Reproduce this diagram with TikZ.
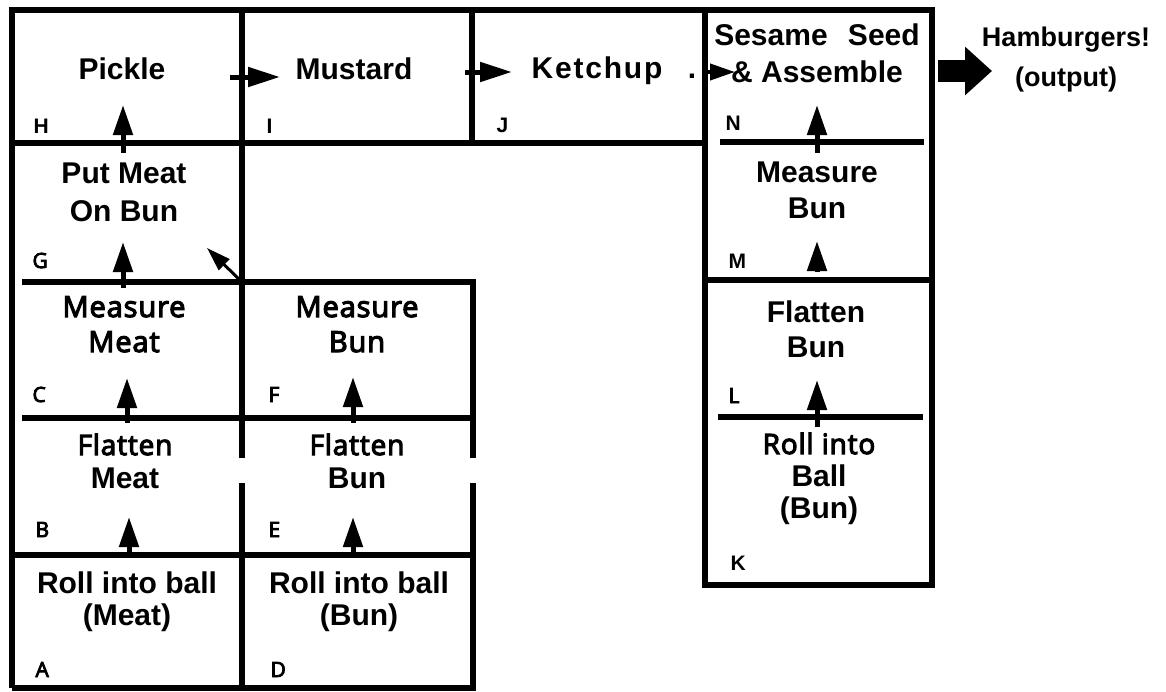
\documentclass[tikz,border=0pt]{standalone}
\usepackage{fontspec}
\setmainfont{Liberation Sans}
\newfontfamily\frut[LetterSpace=3, FakeBold=4]{Open Sans}
\usetikzlibrary{arrows.meta}
\newcommand\softtxt[1]{{\fontsize{28}{34}\selectfont\frut\mdseries #1}}

\begin{document}
\begin{tikzpicture}[x=1pt, y=-1pt,
    frame/.style={line width=5.5pt},
    up/.style={line width=5pt, -{Triangle[length=30pt,width=19pt]}},
    big/.style={font=\fontsize{30}{36}\selectfont\bfseries, align=center, anchor=base},
    soft/.style={font=\fontsize{29}{35}\selectfont\frut, align=center, anchor=base},
    tag/.style={font=\fontsize{21}{21}\selectfont\bfseries, anchor=base west},
    softtag/.style={font=\fontsize{21}{21}\selectfont\frut\mdseries, anchor=base west}]
    \useasboundingbox (0,0) rectangle (1166,691);

    % box lines
    \draw[frame] (12,688) -- (12,10) -- (932,10) -- (932,585) -- (705,585) -- (705,10);
    \draw[frame] (12,143) -- (705,143);
    \draw[frame] (242,10) -- (242,458);
    \draw[frame] (242,483) -- (242,688);
    \draw[frame] (472,10) -- (472,143);
    \draw[frame] (12,688) -- (473,688) -- (473,483);
    \draw[frame] (473,458) -- (473,282) -- (22,282);
    \draw[frame] (22,418) -- (473,418);
    \draw[frame] (12,555) -- (473,555);
    \draw[frame] (720,142) -- (924,142);
    \draw[frame] (705,280) -- (932,280);
    \draw[frame] (718,417) -- (923,417);

    % step texts (base = last line)
    \node[big] (pickle) at (122,79) {Pickle};
    \node[big] (mustard) at (354,79) {Mustard};
    \node[big] (ketchup) at (597,78) {\addfontfeature{LetterSpace=6}Ketchup};
    \node[big] (kdot) at (692,78) {.};
    \node[big, font=\fontsize{30}{37}\selectfont\bfseries] (assemble) at (817,82) {Sesame\hspace{0.4em} Seed\\\& Assemble};
    \node[big, font=\fontsize{27}{40}\selectfont\bfseries] (output) at (1066,86) {Hamburgers!\\(output)};
    \node[big, font=\fontsize{30}{38}\selectfont\bfseries] (putmeat) at (124,221) {Put Meat\\On Bun};
    \node[big] (measurebunM) at (817,218) {Measure\\Bun};
    \node[soft] (measuremeat) at (124,352) {Measure\\Meat};
    \node[soft] (measurebunF) at (357,352) {Measure\\Bun};
    \node[big, font=\fontsize{30}{33}\selectfont\bfseries] (flatmeat) at (125,488) {\softtxt{Flatten}\\Meat};
    \node[big, font=\fontsize{30}{33}\selectfont\bfseries] (flatbunE) at (357,488) {\softtxt{Flatten}\\Bun};
    \node[big, font=\fontsize{30}{32}\selectfont\bfseries] (rollmeat) at (127,625) {Roll into ball\\(Meat)};
    \node[big, font=\fontsize{30}{32}\selectfont\bfseries] (rollbunD) at (359,625) {Roll into ball\\(Bun)};
    \node[big, font=\fontsize{30}{35}\selectfont\bfseries] (flatbunL) at (816,357) {Flatten\\Bun};
    \node[big, font=\fontsize{30}{32}\selectfont\bfseries] (rollbunK) at (819,518) {\softtxt{Roll into}\\Ball\\(Bun)};

    % box letters
    \node[tag] (tH) at (30,133) {H};
    \node[tag] (tI) at (263,133) {I};
    \node[tag] (tJ) at (493,132) {J};
    \node[tag] (tN) at (722,130) {N};
    \node[tag] (tM) at (725,268) {M};
    \node[tag] (tK) at (727,570) {K};
    \node[softtag] (tG) at (29,268) {G};
    \node[softtag] (tC) at (29,402) {C};
    \node[softtag] (tF) at (265,402) {F};
    \node[softtag] (tB) at (32,537) {B};
    \node[softtag] (tE) at (265,537) {E};
    \node[softtag] (tA) at (32,677) {A};
    \node[softtag] (tD) at (267,677) {D};
    \node[softtag] (tL) at (725,403) {L};

    % upward arrows
    \foreach \n/\x/\ya/\yb in {H/123/153/105, G/123/288/242, C/127/423/378, F/353/423/377,
                               B/129/555/517, E/353/555/517, N/817/153/105, M/817/272/241, L/817/427/380}{
        \coordinate (\n s) at (\x,\ya);
        \coordinate (\n t) at (\x,\yb);
        \draw[up] (\n s) -- (\n t);
    }

    % sideways arrows
    \coordinate (iS) at (230,77);
    \coordinate (iT) at (280,77);
    \coordinate (jS) at (465,72);
    \coordinate (jT) at (512,72);
    \coordinate (nS) at (707,72);
    \coordinate (nT) at (735,72);
    \coordinate (gS) at (242,282);
    \coordinate (gT) at (207,248);
    \coordinate (oS) at (938,71);
    \coordinate (oT) at (992,71);
    \draw[line width=5pt, -{Triangle[length=32pt,width=19pt]}] (iS) -- (iT);
    \draw[line width=5pt, -{Triangle[length=32pt,width=19pt]}] (jS) -- (jT);
    \draw[line width=4pt, -{Triangle[length=25pt,width=16pt]}] (nS) -- (nT);
    \draw[line width=3pt, -{Triangle[length=24pt,width=15pt]}] (gS) -- (gT);
    \draw[line width=22pt, -{Triangle[length=27pt,width=47pt]}] (oS) -- (oT);
\end{tikzpicture}
\end{document}
